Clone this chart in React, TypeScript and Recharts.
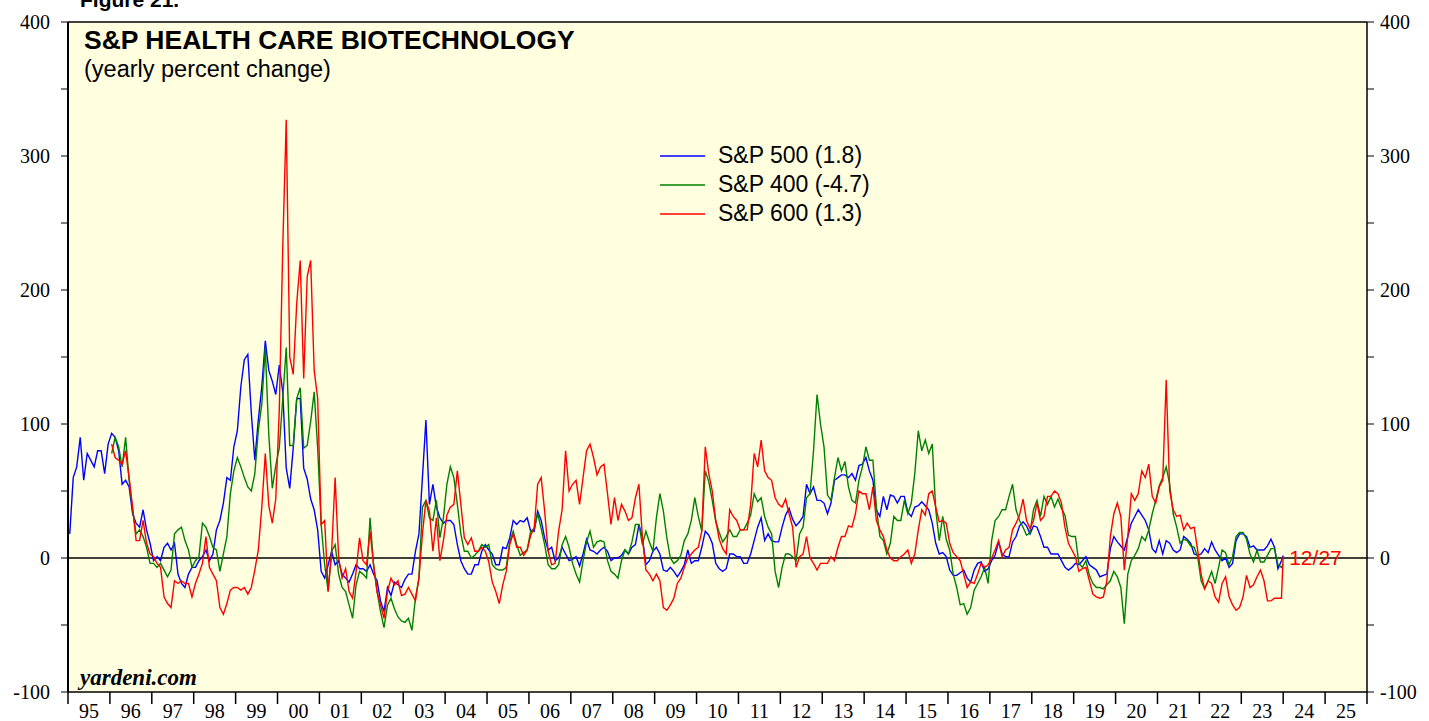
import { LineChart, Line, XAxis, YAxis, CartesianGrid, ReferenceLine, ReferenceDot, Legend } from 'recharts';

// monthly readings, Jan 1995 .. Dec 2023 (12 per year)
const FIRST_YEAR = 1995;

// S&P 500 biotech, yearly % change
const sp500 = [
  18, 60, 68, 90, 58, 78, 73, 68, 80, 80, 63, 85, // 95
  93, 90, 80, 55, 58, 53, 33, 26, 23, 36, 21, 11, // 96
  -2, 1, -2, 8, 11, 6, 11, -12, -19, -22, -12, -7, // 97
  -7, -2, 1, 6, -2, 3, 21, 28, 41, 60, 58, 83, // 98
  95, 128, 148, 152, 108, 73, 103, 128, 162, 140, 132, 122, // 99
  144, 124, 67, 52, 82, 119, 119, 67, 59, 44, 36, 21, // 00
  -10, -15, -5, 5, -5, -2, -12, -15, -18, -12, -5, -8, // 01
  -8, -10, -5, -12, -17, -32, -40, -22, -28, -18, -20, -22, // 02
  -16, -12, -12, 5, 18, 60, 103, 40, 55, 38, 30, 26, // 03
  28, 28, 25, 10, -2, -8, -12, -12, -5, -5, 5, 10, // 04
  6, 3, -5, -5, 8, 7, 15, 28, 25, 28, 27, 30, // 05
  20, 20, 35, 28, 15, 6, 8, -2, 0, 8, 3, -2, // 06
  -1, 1, -6, 3, 14, 6, 5, 3, 6, 8, 5, -2, // 07
  0, 0, 2, 6, 3, 8, 10, 25, 15, -5, -2, 5, // 08
  8, 3, -9, -10, -7, -10, -14, -10, -5, 6, -4, -2, // 09
  -2, 8, 20, 17, 11, -4, -8, -10, -8, 3, 3, 1, // 10
  1, -4, -4, 3, 13, 23, 30, 13, 18, 13, 12, 12, // 11
  23, 32, 37, 29, 24, 27, 31, 55, 48, 53, 43, 43, // 12
  41, 33, 41, 58, 60, 62, 62, 60, 63, 58, 69, 70, // 13
  75, 65, 58, 36, 31, 46, 36, 47, 46, 41, 46, 46, // 14
  34, 31, 38, 39, 42, 39, 36, 26, 11, 3, 4, 1, // 15
  -9, -13, -13, -11, -9, -15, -18, -9, -4, -3, -10, -8, // 16
  -2, 2, 12, 3, 1, 1, 12, 16, 24, 27, 24, 18, // 17
  24, 23, 16, 8, 8, 3, 3, 3, -2, -7, -9, -7, // 18
  -4, -5, -2, 1, -5, -7, -9, -14, -13, -12, 7, 16, // 19
  12, 9, 6, 16, 26, 31, 36, 32, 28, 21, 7, 4, // 20
  13, 3, 13, 11, 6, 4, 6, 16, 14, 11, 3, 2, // 21
  3, 7, 4, 12, 6, 2, -2, 0, -7, -4, 13, 18, // 22
  18, 16, 8, 9, 6, 6, 6, 9, 14, 8, -8, -2, // 23
];

// S&P 400 biotech
const sp400 = [
  null, null, null, null, null, null, null, null, null, null, null, null, // 95
  78, 90, 83, 68, 90, 58, 36, 18, 21, 16, 8, -4, // 96
  -4, -7, -4, -9, -14, -9, 18, 21, 23, 13, 6, -7, // 97
  -2, 1, 26, 23, 16, 8, 6, -10, 3, 16, 48, 65, // 98
  75, 68, 60, 53, 50, 63, 95, 115, 157, 92, 52, 69, // 99
  82, 119, 157, 84, 84, 119, 127, 82, 84, 102, 124, 82, // 00
  25, -5, -25, 5, 10, -12, -22, -25, -35, -45, -20, -10, // 01
  -12, -15, 30, -5, -25, -40, -52, -35, -30, -38, -44, -47, // 02
  -48, -45, -54, -30, -15, 38, 43, 30, 28, 43, 15, 30, // 03
  55, 68, 60, 40, 18, 5, 5, 0, 2, 5, 10, 8, // 04
  10, -5, -8, -9, -9, -7, 12, 20, 10, 2, 4, 6, // 05
  20, 22, 33, 22, 10, -5, -8, -8, -5, 10, 16, 8, // 06
  -4, -12, -18, -2, 12, 20, 8, 12, 13, 12, -2, -10, // 07
  -12, -15, -2, 6, 3, 12, 25, 25, 10, 20, 12, 5, // 08
  30, 48, 35, 15, 0, -4, -2, 2, 13, 18, 28, 45, // 09
  31, 20, 65, 57, 43, 27, 19, 12, 16, 21, 16, 16, // 10
  21, 21, 26, 32, 48, 42, 45, 31, 23, 18, -10, -22, // 11
  -7, 3, 3, 1, -2, 18, 23, 45, 48, 80, 122, 100, // 12
  83, 47, 43, 60, 75, 65, 72, 53, 43, 41, 58, 68, // 13
  83, 73, 73, 38, 16, 13, 3, 11, 31, 28, 28, 43, // 14
  33, 41, 63, 95, 80, 88, 78, 85, 36, 13, 31, 14, // 15
  6, -12, -22, -35, -34, -42, -37, -24, -19, -14, -7, -19, // 16
  13, 28, 31, 36, 36, 46, 55, 36, 28, 23, 17, 19, // 17
  36, 43, 31, 46, 40, 46, 38, 44, 37, 32, 17, 16, // 18
  16, -4, -7, -2, -13, -19, -22, -22, -23, -20, -17, -10, // 19
  -14, -22, -49, -12, -2, 2, 7, 16, 13, 21, 33, 43, // 20
  54, 60, 68, 55, 33, 23, 11, 14, 13, 9, 8, 1, // 21
  -17, -23, -17, -10, -19, -7, 6, 4, -5, 1, 16, 19, // 22
  19, 14, 3, -3, 6, -3, -3, 2, 7, 7, -5, -7, // 23
];

// S&P 600 biotech
const sp600 = [
  null, null, null, null, null, null, null, null, null, null, null, null, // 95
  85, 75, 73, 70, 80, 60, 38, 13, 13, 28, 11, 3, // 96
  1, -4, -7, -29, -34, -37, -17, -19, -17, -19, -19, -29, // 97
  -19, -12, -4, 16, -7, -12, -17, -37, -42, -34, -24, -22, // 98
  -22, -24, -22, -27, -22, -9, 6, 38, 78, 39, 26, 44, // 99
  110, 232, 327, 150, 137, 190, 222, 134, 210, 222, 140, 119, // 00
  25, 28, -25, 5, 60, 0, -15, -8, -25, -30, -10, 15, // 01
  -2, -5, 20, -5, -25, -35, -45, -25, -15, -20, -17, -28, // 02
  -27, -22, -27, -32, -15, 18, 43, 35, 5, 30, -2, 13, // 03
  32, 38, 40, 65, 40, 15, 10, 15, 5, 5, 8, 5, // 04
  -3, -18, -25, -34, -20, -10, 10, 18, 8, 8, 2, 6, // 05
  17, 22, 55, 60, 35, 5, -5, -4, 20, 36, 80, 50, // 06
  55, 58, 40, 60, 80, 85, 75, 62, 68, 70, 48, 25, // 07
  45, 28, 40, 35, 28, 30, 45, 55, 15, -9, -12, -17, // 08
  -12, -17, -37, -39, -35, -30, -19, -15, -7, 0, 3, 6, // 09
  8, 20, 83, 63, 50, 28, 14, 7, 3, 36, 31, 28, // 10
  21, 21, 21, 40, 78, 68, 88, 65, 60, 58, 45, 40, // 11
  38, 44, 33, 23, -7, 1, 3, 16, 0, -4, -9, -4, // 12
  -4, -4, 1, -2, 8, 16, 16, 24, 23, 33, 50, 48, // 13
  48, 36, 53, 28, 21, 16, 6, 0, -2, -2, 1, 3, // 14
  6, -4, 3, 21, 36, 32, 48, 50, 38, 27, 28, 26, // 15
  11, 4, 1, -2, -12, -22, -18, -19, -12, -4, -7, -5, // 16
  0, 6, 13, 1, 6, 8, 21, 26, 32, 44, 28, 22, // 17
  28, 41, 28, 31, 46, 46, 50, 48, 41, 23, 11, 6, // 18
  1, -10, -8, -7, -17, -27, -29, -30, -29, -17, 16, 33, // 19
  41, 31, -9, 16, 48, 43, 48, 65, 60, 70, 46, 41, // 20
  53, 58, 133, 50, 36, 31, 32, 21, 26, 22, 23, 6, // 21
  -12, -23, -17, -19, -29, -33, -19, -14, -29, -35, -39, -37, // 22
  -29, -13, -22, -20, -14, -9, -17, -32, -32, -30, -30, -30, // 23
];

// last reading (12/27/2023), also shown in the legend
const lastDate = 2024;
const lastValues = [1.8, -4.7, 1.3];

const seriesNames = ['S&P 500', 'S&P 400', 'S&P 600'];
const seriesColors = ['#0000ff', '#008000', '#ff0000'];

const yearTicks = [
  1995, 1996, 1997, 1998, 1999, 2000, 2001, 2002, 2003, 2004, 2005, 2006, 2007, 2008, 2009, 2010,
  2011, 2012, 2013, 2014, 2015, 2016, 2017, 2018, 2019, 2020, 2021, 2022, 2023, 2024, 2025, 2026,
];
const valueTicks = [-100, -50, 0, 50, 100, 150, 200, 250, 300, 350, 400];
const labelledValues = [-100, 0, 100, 200, 300, 400];

const W = 1429;
const H = 721;
const MARGIN = { top: 22, right: 8, bottom: 0, left: 8 };
const LEFT_AXIS_W = 60;
const RIGHT_AXIS_W = 54;
const PLOT_W = W - MARGIN.left - MARGIN.right - LEFT_AXIS_W - RIGHT_AXIS_W;
const YEAR_PX = PLOT_W / (yearTicks[yearTicks.length - 1] - yearTicks[0]);

const SERIF = '"Liberation Serif", "Times New Roman", serif';
const SANS = '"Liberation Sans", Arial, sans-serif';

const data: any[] = sp500.map((v, i) => ({
  t: FIRST_YEAR + (i + 0.5) / 12,
  sp500: v,
  sp400: sp400[i],
  sp600: sp600[i],
}));
data.push({ t: lastDate, sp500: lastValues[0], sp400: lastValues[1], sp600: lastValues[2] });

const YearTick = (props: any) => {
  const { x, y, payload } = props;
  const yr = payload.value;
  if (yr >= yearTicks[yearTicks.length - 1]) return <g />;
  return (
    <text x={x + YEAR_PX / 2} y={y} dy="0.71em" textAnchor="middle" fontFamily={SERIF} fontSize={20} fill="#000">
      {String(yr % 100).padStart(2, '0')}
    </text>
  );
};

const ValueTick = (props: any) => {
  const { x, y, payload, textAnchor } = props;
  if (!labelledValues.includes(payload.value)) return <g />;
  return (
    <text x={x} y={y} dy="0.35em" textAnchor={textAnchor} fontFamily={SERIF} fontSize={20} fill="#000">
      {payload.value}
    </text>
  );
};

const LegendBox = () => (
  <div style={{ fontFamily: SANS, fontSize: 23, color: '#000', lineHeight: 1 }}>
    {seriesNames.map((name, i) => (
      <div key={name} style={{ display: 'flex', alignItems: 'center', height: 29 }}>
        <svg width={58} height={10}>
          <line x1={0} y1={5} x2={45} y2={5} stroke={seriesColors[i]} strokeWidth={1.5} />
        </svg>
        <span>{`${name} (${lastValues[i]})`}</span>
      </div>
    ))}
  </div>
);

export default function App() {
  return (
    <div style={{ position: 'absolute', left: 0, top: 0, width: W, height: H, background: '#fff', overflow: 'hidden' }}>
      <LineChart width={W} height={H} data={data} margin={MARGIN}>
        <CartesianGrid fill="#ffffe0" horizontal={false} vertical={false} yAxisId="left" />
        <XAxis
          dataKey="t"
          type="number"
          domain={[1995, 2026]}
          ticks={yearTicks}
          interval={0}
          height={29}
          tickSize={12}
          tickMargin={0}
          tick={YearTick}
          axisLine={{ stroke: '#000', strokeWidth: 1.5 }}
          tickLine={{ stroke: '#000', strokeWidth: 1.5 }}
          allowDataOverflow
        />
        <YAxis
          yAxisId="left"
          domain={[-100, 400]}
          ticks={valueTicks}
          interval={0}
          width={LEFT_AXIS_W}
          tickSize={7}
          tickMargin={11}
          tick={ValueTick}
          axisLine={{ stroke: '#000', strokeWidth: 2 }}
          tickLine={{ stroke: '#000' }}
          allowDataOverflow
        />
        <YAxis
          yAxisId="right"
          orientation="right"
          domain={[-100, 400]}
          ticks={valueTicks}
          interval={0}
          width={RIGHT_AXIS_W}
          tickSize={7}
          tickMargin={6}
          tick={ValueTick}
          axisLine={{ stroke: '#000', strokeWidth: 1.5 }}
          tickLine={{ stroke: '#000' }}
          allowDataOverflow
        />
        <ReferenceLine yAxisId="left" y={400} stroke="#000" strokeWidth={1.5} />
        <ReferenceLine yAxisId="left" y={0} stroke="#000" strokeWidth={1.5} />
        <Legend
          verticalAlign="middle"
          align="center"
          content={LegendBox}
          wrapperStyle={{ position: 'absolute', left: 660, top: 141, width: 280 }}
        />
        <Line yAxisId="left" type="linear" dataKey="sp500" name={seriesNames[0]} stroke={seriesColors[0]} strokeWidth={1.4} dot={false} isAnimationActive={false} />
        <Line yAxisId="left" type="linear" dataKey="sp400" name={seriesNames[1]} stroke={seriesColors[1]} strokeWidth={1.4} dot={false} isAnimationActive={false} />
        <Line yAxisId="left" type="linear" dataKey="sp600" name={seriesNames[2]} stroke={seriesColors[2]} strokeWidth={1.4} dot={false} isAnimationActive={false} />
        <ReferenceDot
          yAxisId="left"
          x={lastDate}
          y={0}
          r={1}
          fill="none"
          stroke="none"
          label={{ value: '12/27', position: 'right', offset: 5, fill: '#ff0000', fontSize: 21, fontFamily: SANS }}
        />
      </LineChart>
      <div style={{ position: 'absolute', left: 80, top: -11, fontFamily: SANS, fontWeight: 'bold', fontSize: 21, lineHeight: 1 }}>
        Figure 21.
      </div>
      <div style={{ position: 'absolute', left: 84, top: 27, fontFamily: SANS, fontWeight: 'bold', fontSize: 26.5, lineHeight: 1 }}>
        S&amp;P HEALTH CARE BIOTECHNOLOGY
      </div>
      <div style={{ position: 'absolute', left: 84, top: 58, fontFamily: SANS, fontSize: 23.5, lineHeight: 1 }}>
        (yearly percent change)
      </div>
      <div style={{ position: 'absolute', left: 80, top: 666, fontFamily: SERIF, fontWeight: 'bold', fontStyle: 'italic', fontSize: 23, lineHeight: 1 }}>
        yardeni.com
      </div>
    </div>
  );
}
